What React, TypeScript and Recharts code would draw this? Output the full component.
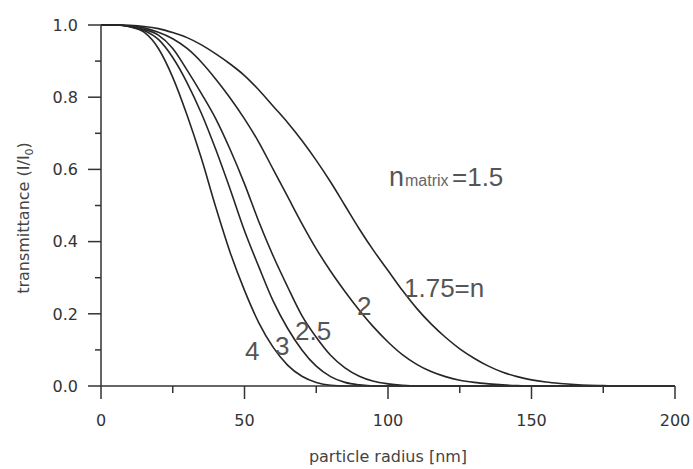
import React from 'react';
import { LineChart, Line, XAxis, YAxis } from 'recharts';

const radius = [0, 5, 10, 15, 20, 25, 30, 35, 40, 45, 50, 55, 60, 65, 70, 75, 80, 85, 90, 95, 100, 105, 110, 115, 120, 125, 130, 135, 140, 145, 150, 155, 160, 165, 170, 175, 180, 185, 190, 195, 200];

const n175 = [1, 1, 0.999, 0.996, 0.99, 0.979, 0.965, 0.945, 0.92, 0.892, 0.86, 0.82, 0.775, 0.73, 0.68, 0.625, 0.565, 0.5, 0.435, 0.375, 0.32, 0.265, 0.215, 0.172, 0.135, 0.103, 0.077, 0.055, 0.038, 0.026, 0.017, 0.011, 0.007, 0.004, 0.002, 0.001, 0, 0, 0, 0, 0];
const n2 = [1, 1, 0.998, 0.992, 0.98, 0.962, 0.935, 0.897, 0.85, 0.798, 0.74, 0.675, 0.6, 0.525, 0.45, 0.38, 0.318, 0.262, 0.21, 0.163, 0.122, 0.087, 0.06, 0.04, 0.026, 0.016, 0.01, 0.006, 0.003, 0.001, 0, 0, 0, 0, 0, 0, 0, 0, 0, 0, 0];
const n25 = [1, 1, 0.996, 0.988, 0.972, 0.935, 0.875, 0.81, 0.74, 0.655, 0.56, 0.455, 0.36, 0.275, 0.195, 0.135, 0.085, 0.05, 0.027, 0.013, 0.006, 0.002, 0, 0, 0, 0, 0, 0, 0, 0, 0, 0, 0, 0, 0, 0, 0, 0, 0, 0, 0];
const n3 = [1, 1, 0.996, 0.985, 0.96, 0.91, 0.84, 0.755, 0.655, 0.545, 0.43, 0.33, 0.235, 0.16, 0.1, 0.055, 0.026, 0.01, 0.003, 0, 0, 0, 0, 0, 0, 0, 0, 0, 0, 0, 0, 0, 0, 0, 0, 0, 0, 0, 0, 0, 0];
const n4 = [1, 1, 0.995, 0.98, 0.935, 0.855, 0.75, 0.63, 0.495, 0.37, 0.265, 0.175, 0.107, 0.058, 0.027, 0.01, 0.002, 0, 0, 0, 0, 0, 0, 0, 0, 0, 0, 0, 0, 0, 0, 0, 0, 0, 0, 0, 0, 0, 0, 0, 0];

const xTicks = [0, 25, 50, 75, 100, 125, 150, 175, 200];
const xMajor = [0, 50, 100, 150, 200];
const yTicks = [0, 0.1, 0.2, 0.3, 0.4, 0.5, 0.6, 0.7, 0.8, 0.9, 1.0];
const yMajor = [0, 0.2, 0.4, 0.6, 0.8, 1.0];

const seriesKeys = ['n175', 'n2', 'n25', 'n3', 'n4'];
const data = radius.map((r, i) => ({ r, n175: n175[i], n2: n2[i], n25: n25[i], n3: n3[i], n4: n4[i] }));

const AXIS = '#333';
const TICK_FONT = 'DejaVu Sans';
const ANN_FONT = 'Liberation Sans, Arial, sans-serif';

const XTick = (props: any) => {
  const { x, y, payload } = props;
  const v = payload.value;
  const major = xMajor.includes(v);
  return (
    <g>
      <line x1={x} x2={x} y1={y} y2={y + (major ? 13 : 7)} stroke={AXIS} strokeWidth={1.5} />
      {major && (
        <text x={x} y={y + 40} textAnchor="middle" fontFamily={TICK_FONT} fontSize={16} fill="#333">
          {String(v)}
        </text>
      )}
    </g>
  );
};

const YTick = (props: any) => {
  const { x, y, payload } = props;
  const v = payload.value;
  const major = yMajor.some((m) => Math.abs(m - v) < 1e-6);
  return (
    <g>
      <line x1={x - (major ? 13 : 6)} x2={x} y1={y} y2={y} stroke={AXIS} strokeWidth={1.5} />
      {major && (
        <text x={x - 23} y={y} dy="0.36em" textAnchor="end" fontFamily={TICK_FONT} fontSize={16} fill="#333">
          {v.toFixed(1)}
        </text>
      )}
    </g>
  );
};

export default function App() {
  return (
    <div style={{ position: 'absolute', left: 0, top: 0, width: 693, height: 469, background: '#fff' }}>
      <LineChart width={693} height={469} data={data} margin={{ top: 25, right: 18, bottom: 33, left: 41 }}>
        <XAxis
          dataKey="r"
          type="number"
          domain={[0, 200]}
          ticks={xTicks}
          interval={0}
          tickSize={0}
          tickMargin={0}
          tickLine={false}
          tick={<XTick />}
          height={50}
          axisLine={{ stroke: AXIS, strokeWidth: 1.5 }}
        />
        <YAxis
          type="number"
          domain={[0, 1]}
          ticks={yTicks}
          interval={0}
          tickSize={0}
          tickMargin={0}
          tickLine={false}
          tick={<YTick />}
          width={60}
          axisLine={{ stroke: AXIS, strokeWidth: 1.5 }}
        />
        {seriesKeys.map((k) => (
          <Line key={k} dataKey={k} type="monotone" stroke="#262626" strokeWidth={1.6} dot={false} isAnimationActive={false} />
        ))}
      </LineChart>
      <svg width={693} height={469} style={{ position: 'absolute', left: 0, top: 0, pointerEvents: 'none' }}>
        <text x={388} y={462} textAnchor="middle" fontFamily={TICK_FONT} fontSize={16} fill="#444">particle radius [nm]</text>
        <text transform="translate(29,218) rotate(-90)" textAnchor="middle" fontFamily={TICK_FONT} fontSize={16} fill="#444">
          transmittance (I/I<tspan fontSize={11} dy={4}>0</tspan><tspan dy={-4}>)</tspan>
        </text>
        <text x={389} y={186} fontFamily={ANN_FONT} fontSize={27} fill="#555">n</text>
        <text x={405} y={186} fontFamily={ANN_FONT} fontSize={16} fill="#666">matrix</text>
        <text x={452} y={186} fontFamily={ANN_FONT} fontSize={26} fill="#555">=1.5</text>
        <text x={404} y={297} fontFamily={ANN_FONT} fontSize={26} fill="#555">1.75=n</text>
        <text x={357} y={315} fontFamily={ANN_FONT} fontSize={26} fill="#555">2</text>
        <text x={295} y={340} fontFamily={ANN_FONT} fontSize={26} fill="#555">2.5</text>
        <text x={275} y={355} fontFamily={ANN_FONT} fontSize={26} fill="#555">3</text>
        <text x={245} y={360} fontFamily={ANN_FONT} fontSize={26} fill="#555">4</text>
      </svg>
    </div>
  );
}
